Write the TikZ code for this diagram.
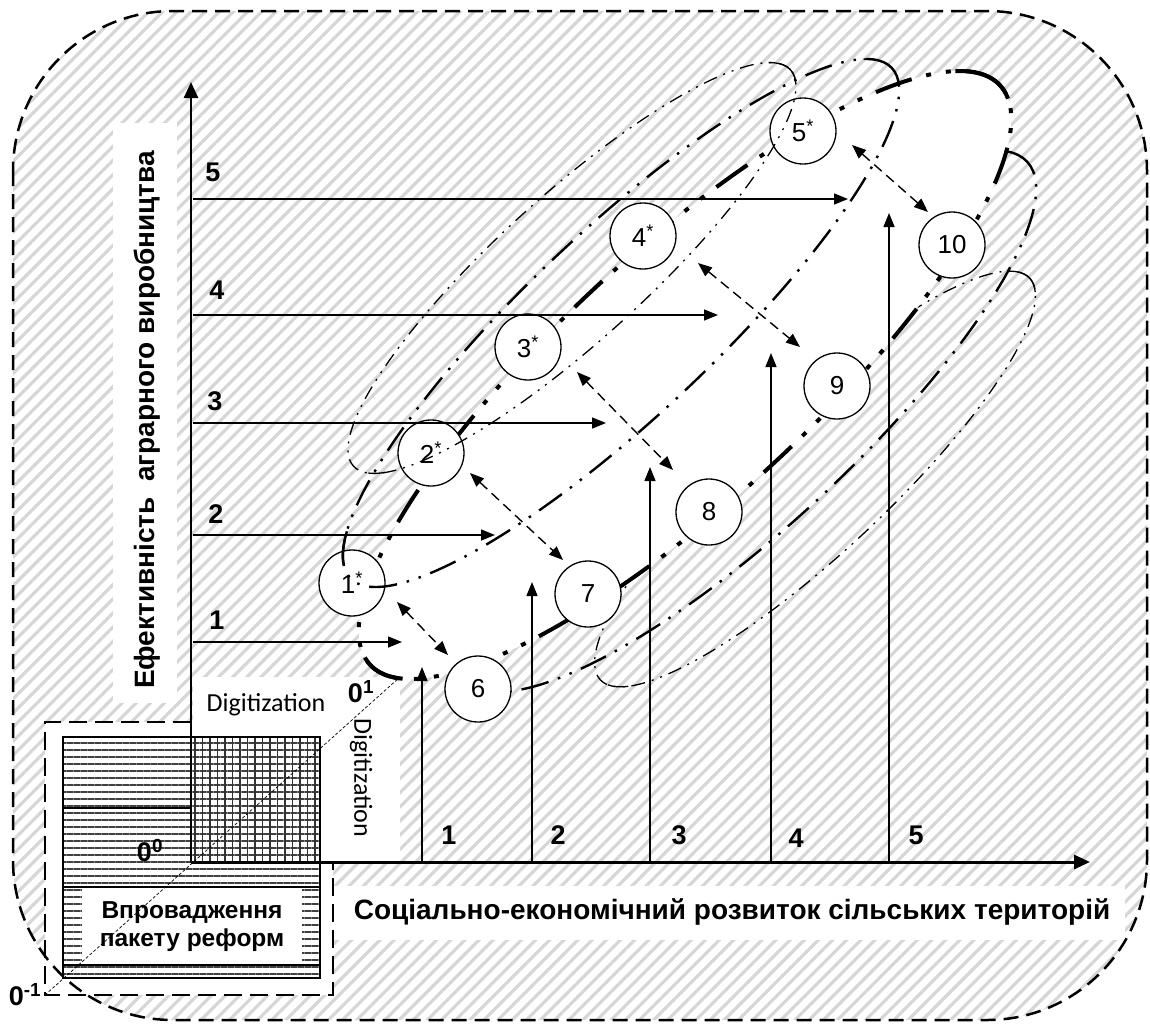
\documentclass[tikz,border=0pt]{standalone}
\usepackage{fontspec}
\setmainfont{Liberation Sans}
\newfontfamily\calfont{Carlito}
\usetikzlibrary{patterns.meta,arrows.meta}
\begin{document}
\begin{tikzpicture}[x=1pt,y=1pt,
  hatchfill/.style={pattern={Lines[angle=45,distance=10pt,line width=3.2pt]},pattern color=black!16},
  bigdd/.style={line width=4pt,dash pattern=on 38pt off 15pt on 5pt off 15pt on 5pt off 15pt},
  middd/.style={line width=2.4pt,dash pattern=on 28pt off 10pt on 2.5pt off 10pt on 2.5pt off 10pt},
  thindd/.style={line width=1.3pt,dash pattern=on 14pt off 7pt on 2pt off 7pt on 2pt off 7pt},
  stage/.style={circle,draw,line width=1.3pt,fill=white,minimum size=66pt,inner sep=0pt,font=\fontsize{26}{26}\selectfont},
  axisarr/.style={-{Triangle[length=16pt,width=14pt]}},
  arr/.style={line width=1.4pt,-{Triangle[length=14pt,width=11pt]}},
  darr/.style={line width=1.4pt,dash pattern=on 10pt off 6pt,{Triangle[length=14pt,width=11pt]}-{Triangle[length=14pt,width=11pt]}},
  num/.style={font=\fontsize{27}{27}\selectfont\bfseries,inner sep=0pt},
  lbl/.style={font=\fontsize{28}{28}\selectfont\bfseries,inner sep=0pt},
  boxlbl/.style={font=\fontsize{24.5}{28}\selectfont\bfseries,inner sep=0pt},
  digit/.style={font=\calfont\fontsize{26}{26}\selectfont,inner sep=0pt},
]
\useasboundingbox (0,0) rectangle (1150,-1023);
% hatched background
\path[hatchfill,rounded corners=160pt] (13,-11) rectangle (1147,-1020);
% white label areas
\fill[white] (113,-123) rectangle (177,-703);
\fill[white] (333,-886) rectangle (1125,-940);
\fill[white] (193,-677) rectangle (400,-862);
\fill[white] (45,-722) rectangle (333,-995);
% ellipse D (thin, lower right)
\begin{scope}[shift={(815,-479)},rotate=43.1]
 \draw[thindd] (0,0) ellipse [x radius=294,y radius=73];
 \draw[line width=1.3pt] (-11:294 and 73) arc[start angle=-11,end angle=15,x radius=294,y radius=73];
 \draw[line width=1.3pt] (187:294 and 73) arc[start angle=187,end angle=199,x radius=294,y radius=73];
\end{scope}
% ellipse E (medium, lower right)
\begin{scope}[shift={(748,-421)},rotate=42.9]
 \draw[middd] (0,0) ellipse [x radius=381,y radius=105];
 \draw[line width=1.5pt] (-7:381 and 105) arc[start angle=-7,end angle=10,x radius=381,y radius=105];
\end{scope}
% ellipse A (main, thick)
\begin{scope}[shift={(685,-375)},rotate=42.6]
 \draw[bigdd,fill=white] (0,0) ellipse [x radius=428,y radius=125];
 \draw[line width=4pt] (-7:428 and 125) arc[start angle=-7,end angle=19,x radius=428,y radius=125];
 \draw[line width=4pt] (176:428 and 125) arc[start angle=176,end angle=195,x radius=428,y radius=125];
\end{scope}
% stage circles
\node[stage] (s1) at (352,-583) {1\textsuperscript{*}};
\node[stage] (s2) at (431,-453) {2\textsuperscript{*}};
\node[stage] (s3) at (528,-347) {3\textsuperscript{*}};
\node[stage] (s4) at (643,-236) {4\textsuperscript{*}};
\node[stage] (s5) at (803,-131) {5\textsuperscript{*}};
\node[stage] (c6) at (478,-689) {6};
\node[stage] (c7) at (588,-594) {7};
\node[stage] (c8) at (709,-512) {8};
\node[stage] (c9) at (837,-386) {9};
\node[stage] (c10) at (952,-245) {10};
% ellipse B (medium, upper left)
\begin{scope}[shift={(621,-323)},rotate=43.3]
 \draw[middd] (0,0) ellipse [x radius=372,y radius=93];
 \draw[line width=1.5pt] (-2:372 and 93) arc[start angle=-2,end angle=16,x radius=372,y radius=93];
 \draw[line width=2.4pt] (157:372 and 93) arc[start angle=157,end angle=171,x radius=372,y radius=93];
\end{scope}
% ellipse C (thin, upper left)
\begin{scope}[shift={(572,-268)},rotate=42.2]
 \draw[thindd] (0,0) ellipse [x radius=295,y radius=73];
 \draw[line width=1.3pt] (-9:295 and 73) arc[start angle=-9,end angle=16,x radius=295,y radius=73];
 \draw[line width=1.3pt] (192:295 and 73) arc[start angle=192,end angle=201,x radius=295,y radius=73];
\end{scope}
% dashed double arrows between stages
\coordinate (d1a) at (397,-602); \coordinate (d1b) at (448,-655);
\coordinate (d2a) at (470,-473); \coordinate (d2b) at (563,-560);
\coordinate (d3a) at (577,-372); \coordinate (d3b) at (673,-470);
\coordinate (d4a) at (698,-263); \coordinate (d4b) at (800,-347);
\coordinate (d5a) at (852,-145); \coordinate (d5b) at (928,-212);
\draw[darr] (d1a) -- (d1b);
\draw[darr] (d2a) -- (d2b);
\draw[darr] (d3a) -- (d3b);
\draw[darr] (d4a) -- (d4b);
\draw[darr] (d5a) -- (d5b);
% horizontal arrows from the y axis
\coordinate (h1s) at (193,-642); \coordinate (h1e) at (402,-642);
\coordinate (h2s) at (193,-535); \coordinate (h2e) at (495,-535);
\coordinate (h3s) at (193,-423); \coordinate (h3e) at (606,-423);
\coordinate (h4s) at (193,-315); \coordinate (h4e) at (718,-315);
\coordinate (h5s) at (193,-199); \coordinate (h5e) at (848,-199);
\draw[arr] (h1s) -- (h1e);
\draw[arr] (h2s) -- (h2e);
\draw[arr] (h3s) -- (h3e);
\draw[arr] (h4s) -- (h4e);
\draw[arr] (h5s) -- (h5e);
% vertical arrows from the x axis
\coordinate (v1s) at (422,-861); \coordinate (v1e) at (422,-667);
\coordinate (v2s) at (532,-861); \coordinate (v2e) at (532,-582);
\coordinate (v3s) at (650,-861); \coordinate (v3e) at (650,-467);
\coordinate (v4s) at (771,-861); \coordinate (v4e) at (771,-353);
\coordinate (v5s) at (889,-861); \coordinate (v5e) at (889,-213);
\draw[arr] (v1s) -- (v1e);
\draw[arr] (v2s) -- (v2e);
\draw[arr] (v3s) -- (v3e);
\draw[arr] (v4s) -- (v4e);
\draw[arr] (v5s) -- (v5e);
% labels of levels
\node[num] (ly1) at (217,-620) {1};
\node[num] (ly2) at (216,-514) {2};
\node[num] (ly3) at (215,-401) {3};
\node[num] (ly4) at (217,-290) {4};
\node[num] (ly5) at (213,-172) {5};
\node[num] (lx1) at (449,-835) {1};
\node[num] (lx2) at (558,-835) {2};
\node[num] (lx3) at (679,-835) {3};
\node[num] (lx4) at (796,-838) {4};
\node[num] (lx5) at (916,-835) {5};
% bottom-left block
\draw[line width=2.8pt,dash pattern=on 18pt off 8pt] (191,-722) -- (45,-722) -- (45,-995) -- (333,-995) -- (333,-862);
\fill[pattern={Lines[angle=0,distance=7pt,line width=1.8pt]},pattern color=black!75] (63,-737) rectangle (320,-978);
\fill[pattern={Lines[angle=90,distance=7.5pt,line width=1.8pt]},pattern color=black!80] (191,-737) rectangle (320,-862);
\draw[line width=1.3pt] (63,-737) rectangle (320,-978);
\draw[line width=1.3pt] (191,-737) rectangle (320,-862);
\draw[line width=1.3pt] (63,-808) -- (191,-808);
\draw[line width=1.3pt] (63,-887) -- (320,-887);
\draw[line width=1.3pt] (63,-965) -- (320,-965);
\fill[white] (82,-889) rectangle (302,-963);
\node[boxlbl,align=center] (reform) at (192,-927) {Впровадження\\пакету реформ};
% axes
\coordinate (O) at (191,-862);
\coordinate (ytip) at (191,-82);
\coordinate (xtip) at (1090,-862);
\draw[line width=2.5pt,axisarr] (O) -- (ytip);
\draw[line width=3pt,axisarr] (O) -- (xtip);
% diagonal
\coordinate (om) at (45,-995);
\coordinate (op) at (400,-677);
\draw[line width=0.7pt,dash pattern=on 3pt off 2pt] (om) -- (op);
% origin labels
\node[num] (o0) at (150,-851) {0\textsuperscript{0}};
\node[num] (o1) at (361,-692) {0\textsuperscript{1}};
\node[num,fill=white] (om1) at (25,-995) {0\textsuperscript{-1}};
% digitization labels
\node[digit,anchor=base] (dg1) at (266,-711) {Digitization};
\node[digit,rotate=-90] (dg2) at (361,-778) {Digitization};
% axis titles
\node[lbl,rotate=90] (ylab) at (147,-420) {Ефективність\ \ аграрного виробництва};
\node[lbl] (xlab) at (732,-912) {Соціально-економічний розвиток сільських територій};
% outer dashed border
\draw[line width=2.5pt,dash pattern=on 15pt off 8pt,rounded corners=160pt] (13,-11) rectangle (1147,-1020);
\end{tikzpicture}
\end{document}
